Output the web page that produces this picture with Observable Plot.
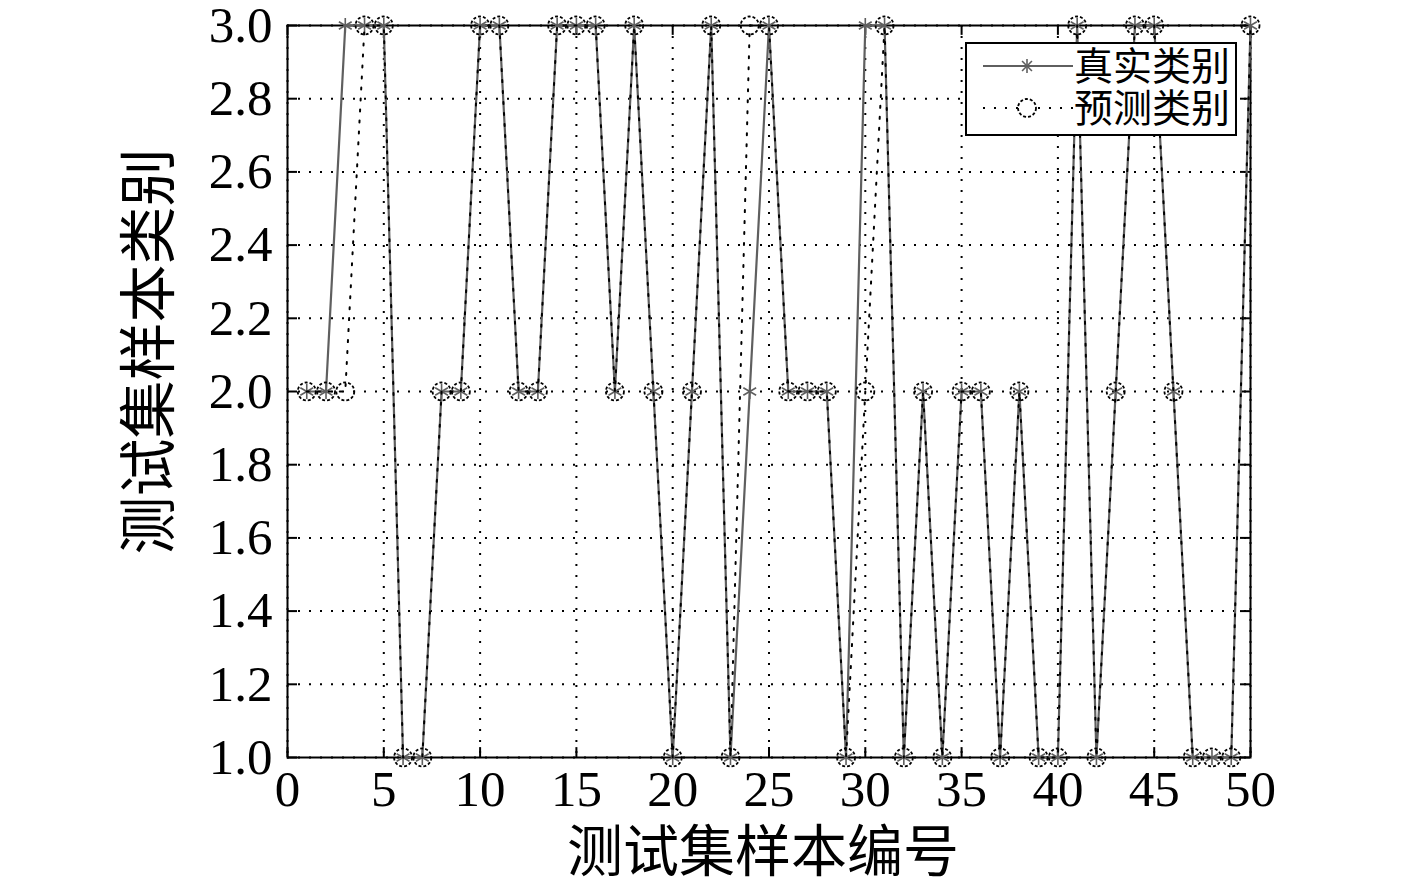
<!DOCTYPE html>
<html>
<head>
<meta charset="utf-8">
<script src="https://cdn.jsdelivr.net/npm/d3@7"></script>
<script src="https://cdn.jsdelivr.net/npm/@observablehq/plot@0.6"></script>
<style>
  html, body { margin: 0; padding: 0; background: #fff; }
  #wrap { position: relative; width: 1417px; height: 884px; }
  #legend { position: absolute; left: 965px; top: 42px; overflow: visible; }
</style>
</head>
<body>
<div id="wrap"></div>
<script>
// ---- data ----
const sampleIndex = [1,2,3,4,5,6,7,8,9,10,11,12,13,14,15,16,17,18,19,20,21,22,23,24,25,26,27,28,29,30,31,32,33,34,35,36,37,38,39,40,41,42,43,44,45,46,47,48,49,50];
const trueClass = [2,2,3,3,3,1,1,2,2,3,3,2,2,3,3,3,2,3,2,1,2,3,1,2,3,2,2,2,1,3,3,1,2,1,2,2,1,2,1,1,3,1,2,3,3,2,1,1,1,3];
const predClass = [2,2,2,3,3,1,1,2,2,3,3,2,2,3,3,3,2,3,2,1,2,3,1,3,3,2,2,2,1,2,3,1,2,1,2,2,1,2,1,1,3,1,2,3,3,2,1,1,1,3];
const xTicks = [0,5,10,15,20,25,30,35,40,45,50];
const yTicks = [1.0,1.2,1.4,1.6,1.8,2.0,2.2,2.4,2.6,2.8,3.0];
const seriesNames = ["真实类别", "预测类别"];
const xLabel = "测试集样本编号";
const yLabel = "测试集样本类别";

const trueData = sampleIndex.map((x, i) => ({x, y: trueClass[i]}));
const predData = sampleIndex.map((x, i) => ({x, y: predClass[i]}));

const tickLenX = 0.52;   // inward tick length in x units
const tickLenY = 0.027;  // inward tick length in y units

const dotted = "2,9";
const trueColor = "#5f5f5f";

const chart = Plot.plot({
  width: 1417,
  height: 884,
  marginLeft: 287,
  marginRight: 167,
  marginTop: 25,
  marginBottom: 127,
  style: {fontFamily: "'Liberation Serif', 'Times New Roman', serif", fontSize: "51px", color: "black", background: "white"},
  x: {domain: [0, 50]},
  y: {domain: [1, 3]},
  marks: [
    Plot.gridX(xTicks, {stroke: "black", strokeOpacity: 1, strokeWidth: 2, strokeDasharray: dotted}),
    Plot.gridY(yTicks, {stroke: "black", strokeOpacity: 1, strokeWidth: 2, strokeDasharray: dotted}),
    // inward ticks
    Plot.ruleY(yTicks, {y: d => d, x1: 0, x2: tickLenX, stroke: "black", strokeWidth: 2}),
    Plot.ruleY(yTicks, {y: d => d, x1: 50 - tickLenX, x2: 50, stroke: "black", strokeWidth: 2}),
    Plot.ruleX(xTicks, {x: d => d, y1: 1, y2: 1 + tickLenY, stroke: "black", strokeWidth: 2}),
    Plot.ruleX(xTicks, {x: d => d, y1: 3 - tickLenY, y2: 3, stroke: "black", strokeWidth: 2}),
    Plot.axisX({ticks: xTicks, tickSize: 0, tickPadding: 12, tickFormat: d => d, label: null, fontSize: 51}),
    Plot.axisY({ticks: yTicks, tickSize: 0, tickPadding: 15, tickFormat: d3.format(".1f"), label: null, fontSize: 51}),
    Plot.frame({stroke: "black", strokeWidth: 2}),
    // true series
    Plot.line(trueData, {x: "x", y: "y", stroke: trueColor, strokeWidth: 2.2}),
    Plot.dot(trueData, {x: "x", y: "y", symbol: "asterisk", r: 7, stroke: trueColor, strokeWidth: 1.6}),
    // predicted series
    Plot.line(predData, {x: "x", y: "y", stroke: "black", strokeWidth: 2, strokeDasharray: dotted}),
    Plot.dot(predData, {x: "x", y: "y", symbol: "circle", r: 9, stroke: "black", fill: "none", strokeWidth: 1.8, strokeDasharray: "3,2"}),
    // axis labels
    Plot.text([xLabel], {text: d => d, frameAnchor: "bottom", lineAnchor: "middle", textAnchor: "middle", dy: 96, dx: -6, fontSize: 56, fontFamily: "'Noto Sans CJK SC', sans-serif", fill: "black"}),
    Plot.text([yLabel], {text: d => d, frameAnchor: "left", lineAnchor: "middle", textAnchor: "middle", rotate: -90, dx: -137, dy: -40, fontSize: 58, fontFamily: "'Noto Sans CJK SC', sans-serif", fill: "black"})
  ]
});

const wrap = document.getElementById("wrap");
wrap.appendChild(chart);

// ---- legend ----
const lw = 272, lh = 94;
const leg = d3.create("svg").attr("id", "legend").attr("width", lw + 20).attr("height", lh);
leg.append("rect").attr("x", 1).attr("y", 1).attr("width", lw - 2).attr("height", lh - 2)
  .attr("fill", "white").attr("stroke", "black").attr("stroke-width", 2);
const rows = [
  {name: seriesNames[0], y: 24, dash: null, color: trueColor},
  {name: seriesNames[1], y: 66, dash: dotted, color: "black"}
];
rows.forEach(r => {
  leg.append("line").attr("x1", 18).attr("x2", 108).attr("y1", r.y).attr("y2", r.y)
    .attr("stroke", r.color).attr("stroke-width", 2).attr("stroke-dasharray", r.dash);
  leg.append("text").attr("x", 109).attr("y", r.y).attr("dy", "0.36em")
    .attr("font-family", "'Noto Sans CJK SC', sans-serif").attr("font-size", 39)
    .attr("fill", "black").text(r.name);
});
// legend symbols
const ax = 62;
const ay = rows[0].y, s = 7;
for (let a = 0; a < 180; a += 45) {
  const rad = a * Math.PI / 180;
  leg.append("line")
    .attr("x1", ax - s * Math.cos(rad)).attr("y1", ay - s * Math.sin(rad))
    .attr("x2", ax + s * Math.cos(rad)).attr("y2", ay + s * Math.sin(rad))
    .attr("stroke", trueColor).attr("stroke-width", 1.6);
}
leg.append("circle").attr("cx", ax).attr("cy", rows[1].y).attr("r", 9)
  .attr("fill", "white").attr("stroke", "black").attr("stroke-width", 1.8).attr("stroke-dasharray", "3,2");
wrap.appendChild(leg.node());
</script>
</body>
</html>
